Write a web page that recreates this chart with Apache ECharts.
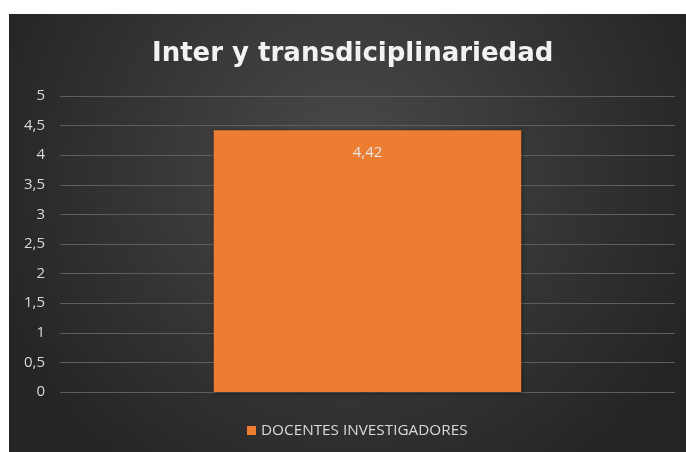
<!DOCTYPE html>
<html><head><meta charset="utf-8">
<script src="https://cdn.jsdelivr.net/npm/echarts@6/dist/echarts.min.js"></script>
<style>
html,body{margin:0;padding:0;background:#fff;width:686px;height:452px;overflow:hidden;}
#c{position:absolute;left:9px;top:14px;width:677px;height:438px;}
</style></head><body>
<div id="c"></div>
<script>
const titleText = "Inter y transdiciplinariedad";
const categories = ["Inter y transdiciplinariedad"];
const seriesName = "DOCENTES INVESTIGADORES";
const values = [4.42];
const yMin = 0, yMax = 5, yStep = 0.5;

const chart = echarts.init(document.getElementById('c'));
chart.setOption({
  backgroundColor: {
    type: 'radial', x: 0.5, y: 0.35, r: 0.85,
    colorStops: [{offset: 0, color: '#4a4a4a'}, {offset: 1, color: '#252525'}]
  },
  title: {
    text: titleText, left: 138, top: 22,
    textStyle: {color: '#f2f2f2', fontFamily: 'DejaVu Sans', fontWeight: 'bold', fontSize: 26}
  },
  grid: {left: 51, right: 11, top: 82, bottom: 60},
  legend: {
    bottom: 9, left: 233, itemWidth: 9, itemHeight: 9, icon: 'rect', itemGap: 10,
    textStyle: {color: '#d9d9d9', fontFamily: 'Open Sans', fontSize: 15.3}
  },
  xAxis: {
    type: 'category', data: categories,
    axisLine: {show: false}, axisTick: {show: false}, axisLabel: {show: false}
  },
  yAxis: {
    type: 'value', min: yMin, max: yMax, interval: yStep,
    axisLine: {show: false}, axisTick: {show: false},
    axisLabel: {color: '#d9d9d9', fontFamily: 'Open Sans', fontSize: 15, margin: 15,
      formatter: v => String(v).replace('.', ',')},
    splitLine: {lineStyle: {color: '#5e5e5e', width: 1}}
  },
  series: [{
    name: seriesName, type: 'bar', data: values, barWidth: '50%',
    itemStyle: {color: '#ED7D31', shadowColor: 'rgba(0,0,0,0.5)', shadowBlur: 4, shadowOffsetX: 1, shadowOffsetY: 1},
    label: {show: true, position: 'insideTop', distance: 15, color: '#e8e8e8',
      fontFamily: 'Open Sans', fontSize: 15, formatter: p => String(p.value).replace('.', ',')}
  }]
});
</script></body></html>
